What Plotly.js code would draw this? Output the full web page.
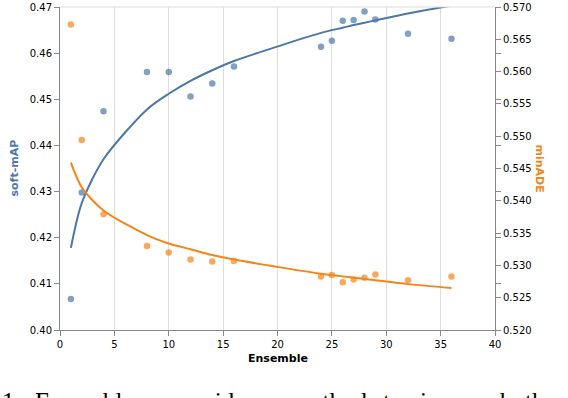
<!DOCTYPE html>
<html>
<head>
<meta charset="utf-8">
<script src="https://cdn.plot.ly/plotly-3.0.1.min.js"></script>
<style>html,body{margin:0;padding:0;background:#fff;}#chart{width:568px;height:398px;}</style>
</head>
<body>
<div id="chart"></div>
<script>
// Ensemble sizes
const ensemble = [1, 2, 4, 8, 10, 12, 14, 16, 24, 25, 26, 27, 28, 29, 32, 36];
// soft-mAP observations (left axis)
const softMAP = [0.4067, 0.4298, 0.4474, 0.4559, 0.4559, 0.4506, 0.4534, 0.4571, 0.4614, 0.4627, 0.4670, 0.4672, 0.4690, 0.4673, 0.4642, 0.4631];
// soft-mAP trend line
const softMAPTrend = [0.4178, 0.4275, 0.4370, 0.4478, 0.4512, 0.4540, 0.4563, 0.4583, 0.4644, 0.4650, 0.4655, 0.4661, 0.4666, 0.4671, 0.4686, 0.4703];
// minADE observations (right axis)
const minADE = [0.5673, 0.5494, 0.5379, 0.5330, 0.5320, 0.5309, 0.5306, 0.5307, 0.5283, 0.5285, 0.5274, 0.5278, 0.5281, 0.5286, 0.5277, 0.5283];
// minADE trend line
const minADETrend = [0.5459, 0.5421, 0.5385, 0.5347, 0.5334, 0.5325, 0.5316, 0.5309, 0.5287, 0.5285, 0.5283, 0.5281, 0.5279, 0.5277, 0.5271, 0.5265];
const captionWords = ["1:", "Ensembles", "provide", "a", "method", "to", "improve", "both"];
const captionX = [0, 33, 167, 272, 290, 381, 418, 498];

const BLUE = '#4c78a8', ORANGE = '#f58518';
const W = 568, ML = 60, MR = 73, MT = 7, MB = 68;
const PW = W - ML - MR;

const traces = [
  {x: ensemble, y: softMAPTrend, type: 'scatter', mode: 'lines', line: {color: BLUE, width: 2, shape: 'spline', smoothing: 0.8}, yaxis: 'y', hoverinfo: 'skip', showlegend: false},
  {x: ensemble, y: softMAP, type: 'scatter', mode: 'markers', marker: {color: BLUE, size: 6.5, opacity: 0.7}, yaxis: 'y', showlegend: false},
  {x: ensemble, y: minADETrend, type: 'scatter', mode: 'lines', line: {color: ORANGE, width: 2, shape: 'spline', smoothing: 0.8}, yaxis: 'y2', hoverinfo: 'skip', showlegend: false},
  {x: ensemble, y: minADE, type: 'scatter', mode: 'markers', marker: {color: ORANGE, size: 6.5, opacity: 0.7}, yaxis: 'y2', showlegend: false}
];

const tickFont = {family: 'DejaVu Sans', size: 10, color: '#000'};
const annotations = [
  {xref: 'paper', yref: 'paper', x: (14 - ML) / PW, y: 0.5, text: '<b>soft-mAP</b>', textangle: -90, showarrow: false,
   font: {family: 'DejaVu Sans', size: 11, color: BLUE}, xanchor: 'center', yanchor: 'middle'},
  {xref: 'paper', yref: 'paper', x: (539 - ML) / PW, y: 0.5, text: '<b>minADE</b>', textangle: 90, showarrow: false,
   font: {family: 'DejaVu Sans', size: 11, color: ORANGE}, xanchor: 'center', yanchor: 'middle'},
  {xref: 'paper', yref: 'paper', x: 0.5, y: (330 - 358) / 323, text: '<b>Ensemble</b>', showarrow: false,
   font: {family: 'DejaVu Sans', size: 11, color: '#000'}, xanchor: 'center', yanchor: 'middle'}
];
captionWords.forEach((w, i) => {
  annotations.push({xref: 'paper', yref: 'paper', x: (captionX[i] - ML) / PW, y: (330 - 386) / 323, text: w, showarrow: false,
    font: {family: 'Liberation Serif', size: 25, color: '#000'}, xanchor: 'left', yanchor: 'top'});
});

const layout = {
  width: W, height: 398,
  margin: {l: ML, r: MR, t: MT, b: MB, pad: 0},
  paper_bgcolor: '#fff', plot_bgcolor: '#fff',
  showlegend: false,
  xaxis: {range: [0, 40], dtick: 5, tick0: 0, showgrid: true, gridcolor: '#dddddd', gridwidth: 1, zeroline: false,
    showline: true, linecolor: '#888', linewidth: 1, ticks: 'outside', ticklen: 5, tickcolor: '#888', tickfont: tickFont},
  yaxis: {range: [0.40, 0.47], dtick: 0.01, tick0: 0.40, tickformat: '.2f', showgrid: false, zeroline: false,
    showline: true, linecolor: '#888', linewidth: 1, ticks: 'outside', ticklen: 5, tickcolor: '#888', tickfont: tickFont, mirror: 'ticks'},
  yaxis2: {range: [0.52, 0.57], dtick: 0.005, tick0: 0.52, tickformat: '.3f', overlaying: 'y', side: 'right', showgrid: false, zeroline: false,
    showline: true, linecolor: '#888', linewidth: 1, ticks: 'outside', ticklen: 5, tickcolor: '#888', tickfont: tickFont},
  shapes: [
    {type: 'line', xref: 'paper', yref: 'paper', x0: 0, x1: 1, y0: 1, y1: 1, line: {color: '#dddddd', width: 1}}
  ],
  annotations: annotations
};

Plotly.newPlot('chart', traces, layout, {staticPlot: true, displayModeBar: false});
</script>
</body>
</html>
